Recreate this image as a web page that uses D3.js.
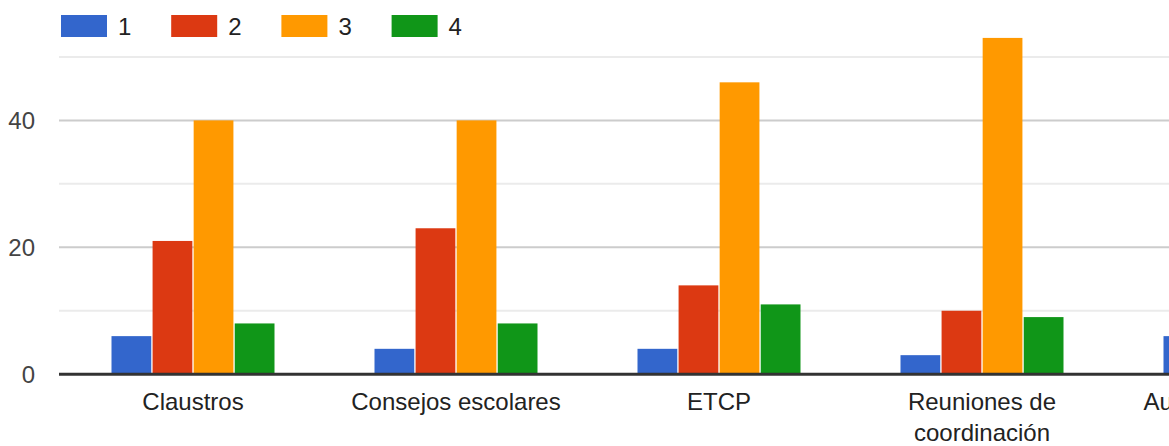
<!DOCTYPE html>
<html>
<head>
<meta charset="utf-8">
<script src="https://cdn.jsdelivr.net/npm/d3@7"></script>
<style>
  html, body { margin: 0; padding: 0; background: #fff; overflow: hidden; }
  svg { display: block; font-family: "Liberation Sans", Arial, sans-serif; }
</style>
</head>
<body>
<svg id="chart" width="1169" height="446"></svg>
<script>
// ---- data ----
const categories = ["Claustros", "Consejos escolares", "ETCP", "Reuniones de coordinación", "Autoevaluación del centro"];
const seriesNames = ["1", "2", "3", "4"];
const values1 = [6, 4, 4, 3, 6];
const values2 = [21, 23, 14, 10, 12];
const values3 = [40, 40, 46, 53, 40];
const values4 = [8, 8, 11, 9, 8];
const seriesColors = ["#3366cc", "#dc3912", "#ff9900", "#109618"];
const majorTicks = [0, 20, 40];
const minorTicks = [10, 30, 50];

const seriesValues = [values1, values2, values3, values4];
const rows = categories.map((c, i) => ({ cat: c, vals: seriesNames.map((s, j) => ({ s, v: seriesValues[j][i] })) }));

// ---- layout ----
const svg = d3.select("#chart");
const plotLeft = 59, step = 263, bandStart = 61.5;
const x0 = d3.scaleBand().domain(categories).range([bandStart, bandStart + step * categories.length]).padding(0);
const groupW = 163;
const x1 = d3.scaleBand().domain(seriesNames).range([-groupW / 2, groupW / 2]).paddingInner(0.032).paddingOuter(0);
const y = d3.scaleLinear().domain([0, 40]).range([374.2, 120.4]);
const color = d3.scaleOrdinal().domain(seriesNames).range(seriesColors);
const plotRight = 1169 + 300;

// gridlines
svg.append("g").selectAll("line.minor").data(minorTicks).join("line")
  .attr("x1", plotLeft).attr("x2", plotRight)
  .attr("y1", d => y(d)).attr("y2", d => y(d))
  .attr("stroke", "#ebebeb").attr("stroke-width", 2);
svg.append("g").selectAll("line.major").data(majorTicks.filter(d => d !== 0)).join("line")
  .attr("x1", plotLeft).attr("x2", plotRight)
  .attr("y1", d => y(d)).attr("y2", d => y(d))
  .attr("stroke", "#cccccc").attr("stroke-width", 2);

// y tick labels
svg.append("g").selectAll("text").data(majorTicks).join("text")
  .attr("x", 35).attr("y", d => y(d)).attr("dy", "0.35em")
  .attr("text-anchor", "end").attr("font-size", 24).attr("fill", "#444")
  .text(d => d);

// bars
const groups = svg.append("g").selectAll("g").data(rows).join("g")
  .attr("transform", d => `translate(${x0(d.cat) + x0.bandwidth() / 2},0)`);
groups.selectAll("rect").data(d => d.vals).join("rect")
  .attr("x", d => x1(d.s)).attr("width", x1.bandwidth())
  .attr("y", d => y(d.v)).attr("height", d => y(0) - y(d.v))
  .attr("fill", d => color(d.s));

// baseline axis
svg.append("line")
  .attr("x1", plotLeft).attr("x2", plotRight)
  .attr("y1", y(0)).attr("y2", y(0))
  .attr("stroke", "#333").attr("stroke-width", 3);

// category labels (wrapped)
const maxW = 240;
const labels = svg.append("g").selectAll("text").data(categories).join("text")
  .attr("text-anchor", "middle").attr("font-size", 24).attr("fill", "#222")
  .attr("x", d => x0(d) + x0.bandwidth() / 2).attr("y", 409.5);
labels.each(function (d) {
  const t = d3.select(this);
  const words = d.split(" ");
  const cx = +t.attr("x");
  let line = [], lineNo = 0;
  let tspan = t.append("tspan").attr("x", cx).attr("dy", 0);
  for (const w of words) {
    line.push(w);
    tspan.text(line.join(" "));
    if (tspan.node().getComputedTextLength() > maxW && line.length > 1) {
      line.pop();
      tspan.text(line.join(" "));
      line = [w];
      lineNo++;
      tspan = t.append("tspan").attr("x", cx).attr("dy", 31).text(w);
    }
  }
});

// legend
const legend = svg.append("g").selectAll("g").data(seriesNames).join("g")
  .attr("transform", (d, i) => `translate(${61 + i * 110.2},0)`);
legend.append("rect").attr("x", 0).attr("y", 15).attr("width", 46).attr("height", 22)
  .attr("fill", d => color(d));
legend.append("text").attr("x", 57).attr("y", 35).attr("font-size", 24).attr("fill", "#222")
  .text(d => d);
</script>
</body>
</html>
